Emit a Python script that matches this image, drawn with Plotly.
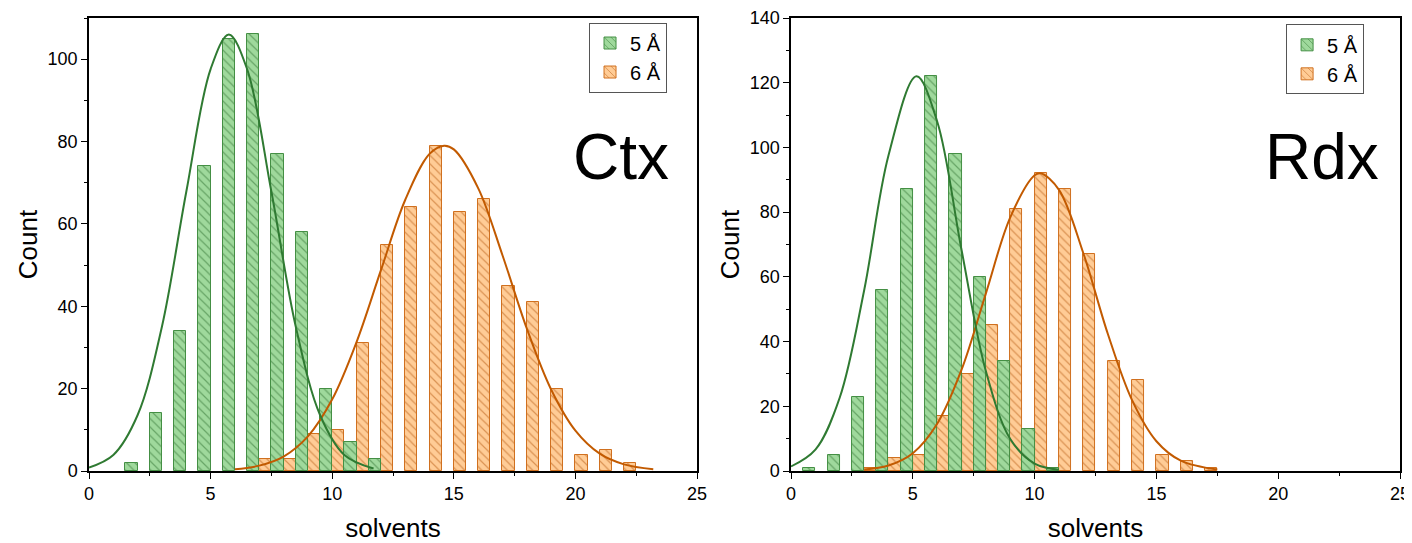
import plotly.graph_objects as go
from plotly.subplots import make_subplots

# ---------------- data ----------------
# bin centres (solvents)
ctx_green_x = [1.5, 2.5, 3.5, 4.5, 5.5, 6.5, 7.5, 8.5, 9.5, 10.5, 11.5]
ctx_green_y = [2, 14, 34, 74, 105, 106, 77, 58, 20, 7, 3]
ctx_orange_x = [7.5, 8.5, 9.5, 10.5, 11.5, 12.5, 13.5, 14.5, 15.5, 16.5, 17.5, 18.5, 19.5, 20.5, 21.5, 22.5]
ctx_orange_y = [3, 3, 9, 10, 31, 55, 64, 79, 63, 66, 45, 41, 20, 4, 5, 2]

rdx_green_x = [0.5, 1.5, 2.5, 3.5, 4.5, 5.5, 6.5, 7.5, 8.5, 9.5, 10.5]
rdx_green_y = [1, 5, 23, 56, 87, 122, 98, 60, 34, 13, 1]
rdx_orange_x = [3.5, 4.5, 5.5, 6.5, 7.5, 8.5, 9.5, 10.5, 11.5, 12.5, 13.5, 14.5, 15.5, 16.5, 17.5]
rdx_orange_y = [1, 4, 5, 17, 30, 45, 81, 92, 87, 67, 34, 28, 5, 3, 1]

# fitted curves, points
ctx_gfit_x = [0, 1, 2, 3, 4, 5, 5.75, 6.5, 7.5, 8.5, 9.5, 10.5, 11.7]
ctx_gfit_y = [0.85, 3.9, 13.6, 35.1, 67.8, 97.6, 106, 97.6, 67.8, 35.1, 13.6, 3.9, 0.6]
ctx_ofit_x = [6, 7, 8, 9, 10, 11, 12, 13, 14, 14.6, 15, 16, 17, 18, 19, 20, 21, 22, 23.2]
ctx_ofit_y = [0.4, 1.3, 3.5, 8.4, 17.4, 31.3, 48.7, 65.8, 77, 79, 78.1, 68.7, 52.4, 34.6, 19.8, 9.8, 4.2, 1.6, 0.4]

rdx_gfit_x = [0, 1, 2, 3, 4, 5.15, 6, 7, 8, 9, 10, 11]
rdx_gfit_y = [1.4, 6.6, 22.7, 55.8, 97.5, 122, 108, 68.3, 30.8, 9.9, 2.3, 0.4]
rdx_ofit_x = [3, 4, 5, 6, 7, 8, 9, 10, 10.25, 11, 12, 13, 14, 15, 16, 17.5]
rdx_ofit_y = [0.43, 1.7, 5.5, 14.6, 31.3, 54.9, 78.4, 91.4, 92, 86.9, 67.3, 42.5, 21.9, 9.2, 3.2, 0.43]

series_names = ["5 Å", "6 Å"]
panel_labels = ["Ctx", "Rdx"]

# ---------------- style ----------------
FONT = "Liberation Sans, Arial, sans-serif"
G_FILL, G_EDGE, G_HATCH, G_LINE = "#9fd99c", "#448f44", "#2f6f2f", "#2f7a32"
O_FILL, O_EDGE, O_HATCH, O_LINE = "#ffcc96", "#d0701f", "#b5580f", "#c25a00"

fig = make_subplots(rows=1, cols=2, horizontal_spacing=0.0717)
fig.update_layout(xaxis=dict(domain=[0, 0.4638]), xaxis2=dict(domain=[0.5355, 1.0]))


def bars(x, y, fill, edge, hatch, name, offset, legend, rank):
    return go.Bar(
        x=x, y=y, width=0.5, offset=offset, name=name,
        marker=dict(color=fill, line=dict(color=edge, width=1),
                    pattern=dict(shape="\\", fgcolor=hatch, size=6, solidity=0.2)),
        legend=legend, showlegend=True, legendrank=rank,
    )


def fit(x, y, color, legend):
    return go.Scatter(x=x, y=y, mode="lines", line=dict(color=color, width=2, shape="spline"),
                      showlegend=False, hoverinfo="skip", legend=legend)


panels = [
    (ctx_green_x, ctx_green_y, ctx_orange_x, ctx_orange_y, ctx_gfit_x, ctx_gfit_y, ctx_ofit_x, ctx_ofit_y, "legend"),
    (rdx_green_x, rdx_green_y, rdx_orange_x, rdx_orange_y, rdx_gfit_x, rdx_gfit_y, rdx_ofit_x, rdx_ofit_y, "legend2"),
]
for i, (gx, gy, ox, oy, gfx, gfy, ofx, ofy, lg) in enumerate(panels):
    col = i + 1
    fig.add_trace(bars(ox, oy, O_FILL, O_EDGE, O_HATCH, series_names[1], -0.5, lg, 2), row=1, col=col)
    fig.add_trace(bars(gx, gy, G_FILL, G_EDGE, G_HATCH, series_names[0], 0.0, lg, 1), row=1, col=col)
    fig.add_trace(fit(ofx, ofy, O_LINE, lg), row=1, col=col)
    fig.add_trace(fit(gfx, gfy, G_LINE, lg), row=1, col=col)

axis_common = dict(
    showline=True, linecolor="black", linewidth=1.5, mirror=True,
    ticks="outside", ticklen=6, tickwidth=1.3, tickcolor="black",
    showgrid=False, zeroline=False, automargin=False,
    tickfont=dict(family=FONT, size=18, color="black"),
    minor=dict(ticks="outside", ticklen=3.5, tickwidth=1.3, tickcolor="black"),
)

for col, ymax in [(1, 110), (2, 140)]:
    fig.update_xaxes(range=[0, 25], dtick=5, tick0=0, **axis_common,
                     title=dict(text="solvents", font=dict(family=FONT, size=26, color="black"), standoff=16),
                     row=1, col=col)
    fig.update_yaxes(range=[0, ymax], dtick=20, tick0=0, **axis_common,
                     title=dict(text="Count", font=dict(family=FONT, size=26, color="black"), standoff=3),
                     row=1, col=col)
fig.update_xaxes(minor_dtick=2.5)
fig.update_yaxes(minor_dtick=10)

legend_common = dict(
    font=dict(family=FONT, size=20, color="black"),
    bgcolor="white", bordercolor="#555555", borderwidth=1,
    xanchor="right", yanchor="top", tracegroupgap=0,
)
fig.update_layout(
    legend=dict(x=0.4409, y=0.99, **legend_common),
    legend2=dict(x=0.9726, y=0.986, **legend_common),
)

label_pos = [(0.957, 0.693), (0.968, 0.693)]
for i, (xref, yref) in enumerate([("x domain", "y domain"), ("x2 domain", "y2 domain")]):
    fig.add_annotation(text=panel_labels[i], xref=xref, yref=yref,
                       x=label_pos[i][0], y=label_pos[i][1], xanchor="right", yanchor="middle",
                       showarrow=False, font=dict(family=FONT, size=64, color="black"))

# page body has an 8px margin: compensate so the plot areas land where the reference has them
fig.update_layout(
    width=1404, height=535,
    margin=dict(l=81, r=12, t=10, b=72),
    plot_bgcolor="white", paper_bgcolor="white",
    barmode="overlay", bargap=0,
    font=dict(family=FONT, color="black"),
)

fig.write_html("out.html")
